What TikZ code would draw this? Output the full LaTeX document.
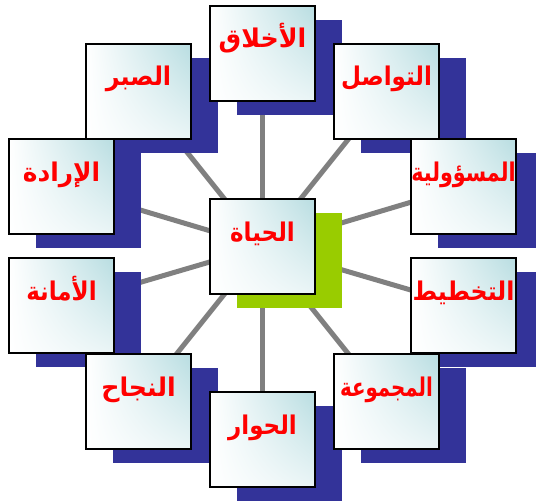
\documentclass[tikz,border=0pt]{standalone}
\usepackage{fontspec}
\usetikzlibrary{shadings}
\newfontfamily\arabicfont[Script=Arabic]{DejaVu Sans}
\TeXXeTstate=1
\definecolor{boxcyan}{RGB}{184,221,225}
\definecolor{shblue}{RGB}{51,51,153}
\definecolor{shgreen}{RGB}{153,204,0}
\definecolor{spokegray}{RGB}{128,128,128}
\pgfdeclarelayer{paper}
\pgfdeclarelayer{spokes}
\pgfdeclarelayer{shadowlayer}
\pgfsetlayers{paper,spokes,shadowlayer,main}
\tikzset{
  box/.style={draw=black, line width=2pt, minimum width=105pt, minimum height=95pt,
    inner sep=0pt, outer sep=0pt, shade,
    upper left=white, upper right=boxcyan, lower left=white, lower right=boxcyan!30!white},
  lbl/.style={anchor=base, text=red, inner sep=0pt,
    font=\arabicfont\bfseries\fontsize{23}{23}\selectfont},
  spoke/.style={draw=spokegray, line width=5pt},
}
\newcommand{\arb}[2]{\scalebox{#1}[1.12]{\beginR #2\endR}}
\newcommand{\shadowof}[2]{\fill[#2] ([shift={(27pt,-14pt)}]#1.north west) rectangle ([shift={(27pt,-14pt)}]#1.south east);}
\begin{document}
\begin{tikzpicture}[x=1pt,y=-1pt]
\clip (0,0) rectangle (536,503);
\begin{pgfonlayer}{paper}
\fill[white] (0,0) rectangle (536,503);
\end{pgfonlayer}
% boxes
\node[box] (k) at (262.5,246.5) {};
\node[box] (a) at (262.5,53.5) {};
\node[box] (b) at (386.5,91.5) {};
\node[box] (c) at (463.5,186.5) {};
\node[box] (d) at (463.5,305.5) {};
\node[box] (e) at (386.5,401.5) {};
\node[box] (f) at (262.5,439.5) {};
\node[box] (g) at (138.5,401.5) {};
\node[box] (h) at (61.5,305.5) {};
\node[box] (i) at (61.5,186.5) {};
\node[box] (j) at (138.5,91.5) {};
% labels
\node[lbl] (kt) at ([yshift=-42pt]k.north) {\arb{1}{الحياة}};
\node[lbl] (at) at ([yshift=-42pt]a.north) {\arb{1.1}{الأخلاق}};
\node[lbl] (bt) at ([yshift=-42pt]b.north) {\arb{1}{التواصل}};
\node[lbl] (ct) at ([yshift=-42pt]c.north) {\arb{0.9}{المسؤولية}};
\node[lbl] (dt) at ([yshift=-42pt]d.north) {\arb{1.03}{التخطيط}};
\node[lbl] (et) at ([yshift=-42pt]e.north) {\arb{0.86}{المجموعة}};
\node[lbl] (ft) at ([yshift=-42pt]f.north) {\arb{1}{الحوار}};
\node[lbl] (gt) at ([yshift=-42pt]g.north) {\arb{1.1}{النجاح}};
\node[lbl] (ht) at ([yshift=-42pt]h.north) {\arb{1}{الأمانة}};
\node[lbl] (it) at ([yshift=-42pt]i.north) {\arb{1.08}{الإرادة}};
\node[lbl] (jt) at ([yshift=-42pt]j.north) {\arb{1.04}{الصبر}};
\begin{pgfonlayer}{shadowlayer}
\shadowof{k}{shgreen}
\foreach \n in {a,b,c,d,e,f,g,h,i,j}{\shadowof{\n}{shblue}}
\end{pgfonlayer}
\begin{pgfonlayer}{spokes}
\foreach \n in {a,b,c,d,e,f,g,h,i,j}{\draw[spoke] (k.center) -- (\n.center);}
\end{pgfonlayer}
\end{tikzpicture}
\end{document}
